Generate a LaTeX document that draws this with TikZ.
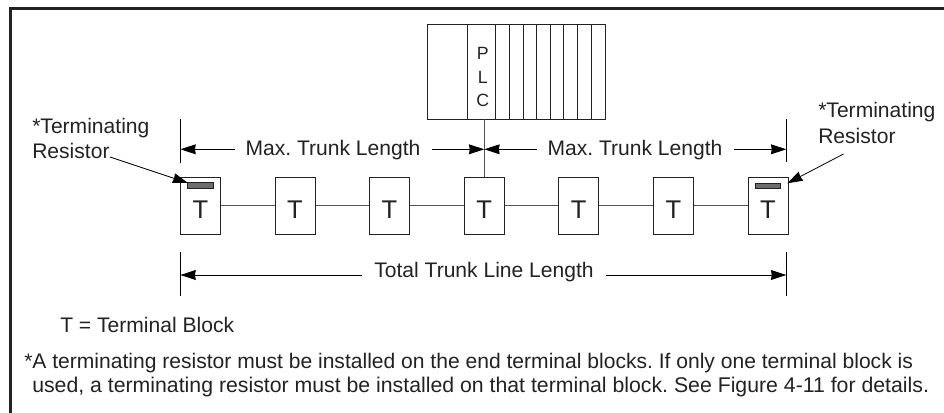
\documentclass[tikz,border=0pt]{standalone}
\usepackage{fontspec}
\setmainfont{Liberation Sans}
\usetikzlibrary{arrows.meta}
\definecolor{ink}{HTML}{222222}
\definecolor{wire}{HTML}{555555}
\frenchspacing
\tikzset{
  x=0.75pt,y=-0.75pt,
  lbl/.style={inner sep=0pt,text=ink,font=\fontsize{15.8pt}{18pt}\selectfont},
  block/.style={draw=ink,line width=0.75pt,minimum width=30pt,minimum height=42.5pt,inner sep=0pt,fill=white},
  tletter/.style={inner sep=0pt,font=\fontsize{19.2pt}{20pt}\selectfont,text=ink},
  plcletter/.style={inner sep=0pt,text=ink,font=\fontsize{13.3pt}{18pt}\selectfont},
  wirel/.style={draw=wire,line width=0.8pt},
  tick/.style={draw=black,line width=0.6pt},
  dim/.style={draw=black,line width=0.6pt,-{Stealth[length=11.5pt,width=7.4pt,inset=0.6pt]}},
  res/.style={draw=ink,fill=gray!85!black,line width=0.5pt},
  slot/.style={draw=ink,line width=0.75pt}
}
\begin{document}
\begin{tikzpicture}
\useasboundingbox (0,0) rectangle (944,413);
\draw[ink,line width=1.9pt] (10.7,413) -- (10.7,8.7) -- (944,8.7);
% PLC
\node[draw=ink,line width=0.9pt,minimum width=133.5pt,minimum height=71.25pt,inner sep=0pt,anchor=north west] (plc) at (426.5,24) {};
\foreach \xx in {467.6,495.3,509.3,523.3,536.7,550.7,563.3,577.3,591.3}{
  \draw[slot] (\xx,24) -- (\xx,119);
}
\node[plcletter] (p) at (482.7,53) {P};
\node[plcletter] (l) at (482.7,77) {L};
\node[plcletter] (c) at (482.7,100) {C};
% blocks
\foreach \n/\xx in {a/200.5,b/295,e/389.5,d/484.3,f/578.7,g/673.5,h/768}{
  \node[block] (\n) at (\xx,205.7) {};
  \node[tletter] (t\n) at (\xx,209.5) {T};
}
\foreach \p/\q in {a/b,b/e,e/d,d/f,f/g,g/h}{ \draw[wirel] (\p) -- (\q); }
\coordinate (plcb) at (484.3,119);
\draw[wirel] (plcb) -- (d.north);
\draw[res] (187.4,182.8) rectangle (213.6,188.4);
\draw[res] (755,183) rectangle (780.7,188.6);
% ticks
\coordinate (t1a) at (180.4,119); \coordinate (t1b) at (180.4,162.7);
\coordinate (t2a) at (786.3,119); \coordinate (t2b) at (786.3,162.5);
\coordinate (t3a) at (180.4,252.3); \coordinate (t3b) at (180.4,296);
\coordinate (t4a) at (786.3,252.3); \coordinate (t4b) at (786.3,296);
\draw[tick] (t1a) -- (t1b);
\draw[tick] (t2a) -- (t2b);
\draw[tick] (t3a) -- (t3b);
\draw[tick] (t4a) -- (t4b);
% labels and arrows
\node[lbl,anchor=center] (m1) at (333,150) {Max. Trunk Length};
\node[lbl,anchor=center] (m2) at (635,150) {Max. Trunk Length};
\node[lbl,anchor=center] (tt) at (484,272) {Total Trunk Line Length};
\coordinate (y1) at (180.4,149.3);
\coordinate (y2) at (484.3,149.3);
\coordinate (y3) at (786.3,149.3);
\coordinate (y4) at (180.4,275);
\coordinate (y5) at (786.3,275);
\coordinate (s1) at (235,149.3);
\coordinate (s2) at (432,149.3);
\coordinate (s3) at (537,149.3);
\coordinate (s4) at (734,149.3);
\coordinate (s5) at (362,275);
\coordinate (s6) at (606,275);
\draw[dim] (s1) -- (y1);
\draw[dim] (s2) -- (y2);
\draw[dim] (s3) -- (y2);
\draw[dim] (s4) -- (y3);
\draw[dim] (s5) -- (y4);
\draw[dim] (s6) -- (y5);
\node[lbl,anchor=west] (tl1) at (32,128) {*Terminating};
\node[lbl,anchor=west] (tl2) at (32,151) {Resistor};
\node[lbl,anchor=west] (tr1) at (818,112) {*Terminating};
\node[lbl,anchor=west] (tr2) at (818,136) {Resistor};
\coordinate (a1) at (110,157);
\coordinate (a2) at (188,183);
\coordinate (a3) at (843.5,154);
\coordinate (a4) at (787.3,183.3);
\draw[dim] (a1) -- (a2);
\draw[dim] (a3) -- (a4);
\node[lbl,anchor=west] (k) at (60,325) {T = Terminal Block};
\node[lbl,anchor=west] (f1) at (24,363) {*A terminating resistor must be installed on the end terminal blocks. If only one terminal block is};
\node[lbl,anchor=west,font=\fontsize{15.95pt}{18pt}\selectfont] (f2) at (32,387) {used, a terminating resistor must be installed on that terminal block. See Figure 4-11 for details.};
\end{tikzpicture}
\end{document}
